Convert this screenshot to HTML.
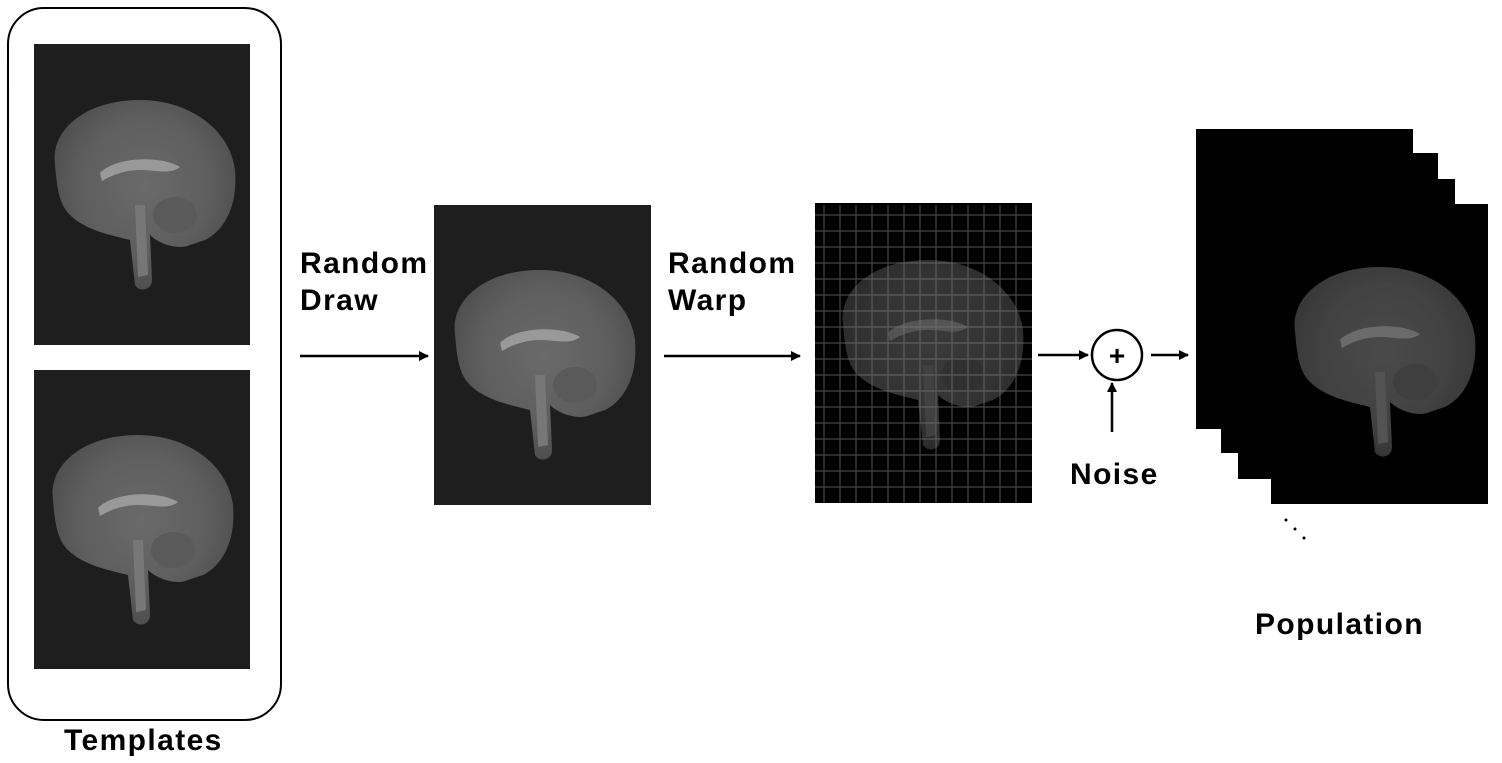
<!DOCTYPE html>
<html><head><style>
body{margin:0;width:1502px;height:763px;background:#fff;overflow:hidden;position:relative;font-family:"Liberation Sans",Arial,sans-serif;}
.t{position:absolute;font-weight:bold;font-size:30px;color:#000;line-height:37px;letter-spacing:1.4px;}
svg{position:absolute;left:0;top:0}
</style></head><body>
<svg width="1502" height="763" viewBox="0 0 1502 763">
<defs>
<marker id="ah" markerWidth="10" markerHeight="10" refX="9" refY="5" orient="auto" markerUnits="userSpaceOnUse"><path d="M0,0 L10,5 L0,10 z" fill="#000"/></marker>
<radialGradient id="bg" cx="50%" cy="45%" r="60%"><stop offset="0" stop-color="#6a6a6a"/><stop offset="0.6" stop-color="#5e5e5e"/><stop offset="1" stop-color="#4a4a4a"/></radialGradient>
<g id="brain">
<path d="M15,70 C10,35 45,5 100,5 C150,5 190,35 195,75 C198,110 185,135 165,145 L150,150 C140,155 120,150 110,140 L112,185 C112,195 100,198 95,190 L90,145 C70,140 45,135 30,120 C18,108 17,90 15,70 Z" fill="url(#bg)"/>
<path d="M60,78 C75,62 120,60 140,72 C130,80 115,75 100,75 C85,75 72,80 62,86 Z" fill="#999"/>
<path d="M95,110 L105,110 L108,180 L98,182 Z" fill="#777"/>
<ellipse cx="135" cy="120" rx="22" ry="18" fill="#5a5a5a"/>
</g>
</defs>
<rect x="8" y="8" width="273" height="712" rx="36" fill="none" stroke="#000" stroke-width="2"/>
<rect x="34" y="44" width="216" height="301" fill="#1e1e1e"/>
<use href="#brain" transform="translate(40,95)"/>
<rect x="34" y="370" width="216" height="299" fill="#1e1e1e"/>
<use href="#brain" transform="translate(38,430)"/>
<rect x="434" y="205" width="217" height="300" fill="#1e1e1e"/>
<use href="#brain" transform="translate(440,265)"/>
<rect x="815" y="203" width="217" height="300" fill="#000"/>
<use href="#brain" transform="translate(828,255)" opacity="0.55"/>
<g stroke="#777" stroke-width="1.2" fill="none" opacity="0.6">
<path d="M824,205 V503 M840,205 V503 M856,205 V503 M872,205 V503 M888,205 V503 M904,205 V503 M920,205 V503 M936,205 V503 M952,205 V503 M968,205 V503 M984,205 V503 M1000,205 V503 M1016,205 V503"/>
<path d="M815,215 H1032 M815,231 H1032 M815,247 H1032 M815,263 H1032 M815,279 H1032 M815,295 H1032 M815,311 H1032 M815,327 H1032 M815,343 H1032 M815,359 H1032 M815,375 H1032 M815,391 H1032 M815,407 H1032 M815,423 H1032 M815,439 H1032 M815,455 H1032 M815,471 H1032 M815,487 H1032"/>
</g>
<rect x="1196" y="129" width="217" height="300" fill="#000"/>
<rect x="1221" y="153" width="217" height="300" fill="#000"/>
<rect x="1238" y="179" width="217" height="300" fill="#000"/>
<rect x="1271" y="204" width="217" height="300" fill="#000"/>
<use href="#brain" transform="translate(1280,262)" opacity="0.7"/>
<g fill="#000"><circle cx="1286" cy="520" r="1.5"/><circle cx="1295" cy="529" r="1.5"/><circle cx="1304" cy="538" r="1.5"/></g>
<g stroke="#000" stroke-width="2.5" marker-end="url(#ah)">
<line x1="300" y1="356" x2="428" y2="356"/>
<line x1="664" y1="356" x2="800" y2="356"/>
<line x1="1038" y1="355" x2="1088" y2="355"/>
<line x1="1151" y1="355" x2="1188" y2="355"/>
<line x1="1112" y1="432" x2="1112" y2="383"/>
</g>
<circle cx="1117" cy="355" r="25" fill="none" stroke="#000" stroke-width="2.5"/>
<text x="1117" y="365" font-family="Liberation Sans" font-weight="bold" font-size="28" text-anchor="middle">+</text>
</svg>
<div class="t" style="left:64px;top:722px">Templates</div>
<div class="t" style="left:300px;top:245px">Random<br>Draw</div>
<div class="t" style="left:668px;top:245px">Random<br>Warp</div>
<div class="t" style="left:1070px;top:456px">Noise</div>
<div class="t" style="left:1255px;top:606px">Population</div>
</body></html>
